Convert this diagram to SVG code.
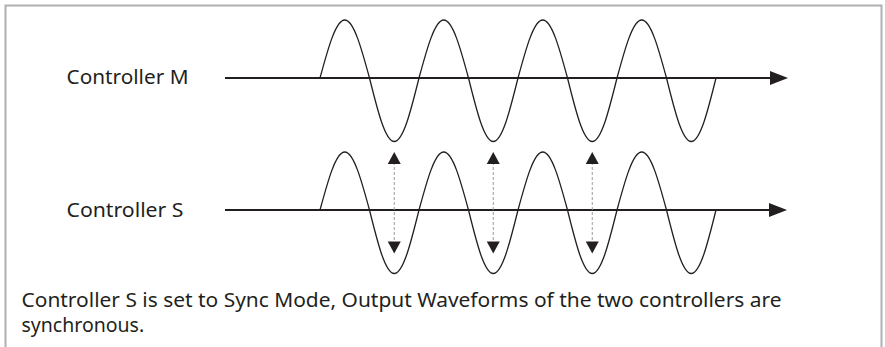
<svg xmlns="http://www.w3.org/2000/svg" width="885" height="347" viewBox="0 0 885 347">
<style>
.txt{font-family:"Noto Sans","Open Sans","Liberation Sans",sans-serif;fill:#231f20}
.lbl{font-size:20.5px}
.cap{font-size:19.5px}
.axis{stroke:#231f20;stroke-width:2;fill:none}
.wave{stroke:#231f20;stroke-width:1.3;fill:none}
.sync{stroke:#9a9a9a;stroke-width:1;stroke-dasharray:3 2;fill:none}
.head{fill:#231f20}
.frame{stroke:#b0b0b0;stroke-width:2;fill:none}
</style>
<defs>
<path id="wave" d="M320,78 c 8.07,-29.71 15.79,-58 24.75,-58 c 8.96,0 16.68,28.29 24.75,58 c 8.07,32.53 15.79,63.5 24.75,63.5 c 8.96,0 16.68,-30.97 24.75,-63.5 c 8.07,-29.71 15.79,-58 24.75,-58 c 8.96,0 16.68,28.29 24.75,58 c 8.07,32.53 15.79,63.5 24.75,63.5 c 8.96,0 16.68,-30.97 24.75,-63.5 c 8.07,-29.71 15.79,-58 24.75,-58 c 8.96,0 16.68,28.29 24.75,58 c 8.07,32.53 15.79,63.5 24.75,63.5 c 8.96,0 16.68,-30.97 24.75,-63.5 c 8.07,-29.71 15.79,-58 24.75,-58 c 8.96,0 16.68,28.29 24.75,58 c 8.07,32.53 15.79,63.5 24.75,63.5 c 8.96,0 16.68,-30.97 24.75,-63.5"/>
<g id="dsync">
<line class="sync" x1="0" y1="162" x2="0" y2="243"/>
<path class="head" d="M0,152 L6.5,164 L-6.5,164 Z"/>
<path class="head" d="M0,253.5 L6.5,241.5 L-6.5,241.5 Z"/>
</g>
</defs>
<rect x="0" y="0" width="885" height="347" fill="#ffffff"/>
<path class="frame" d="M5.5,350 L5.5,5.5 L881.5,5.5 L881.5,350"/>
<g id="controller-m">
<text class="txt lbl" x="66.5" y="84" textLength="122" lengthAdjust="spacingAndGlyphs">Controller M</text>
<line class="axis" x1="225" y1="78" x2="772" y2="78"/>
<path class="head" d="M788,78 L770,71 L770,85 Z"/>
<use href="#wave" class="wave"/>
</g>
<g id="controller-s">
<text class="txt lbl" x="66.5" y="216.5" textLength="117" lengthAdjust="spacingAndGlyphs">Controller S</text>
<line class="axis" x1="225" y1="210" x2="771" y2="210"/>
<path class="head" d="M787,210 L769,203 L769,217 Z"/>
<use href="#wave" class="wave" transform="translate(0,132)"/>
</g>
<g id="connectors">
<use href="#dsync" transform="translate(394.25,0)"/>
<use href="#dsync" transform="translate(493.25,0)"/>
<use href="#dsync" transform="translate(592.25,0)"/>
</g>
<g id="caption">
<text class="txt cap" x="21.5" y="306.5" textLength="760" lengthAdjust="spacingAndGlyphs">Controller S is set to Sync Mode, Output Waveforms of the two controllers are</text>
<text class="txt cap" x="21.5" y="332">synchronous.</text>
</g>
</svg>
